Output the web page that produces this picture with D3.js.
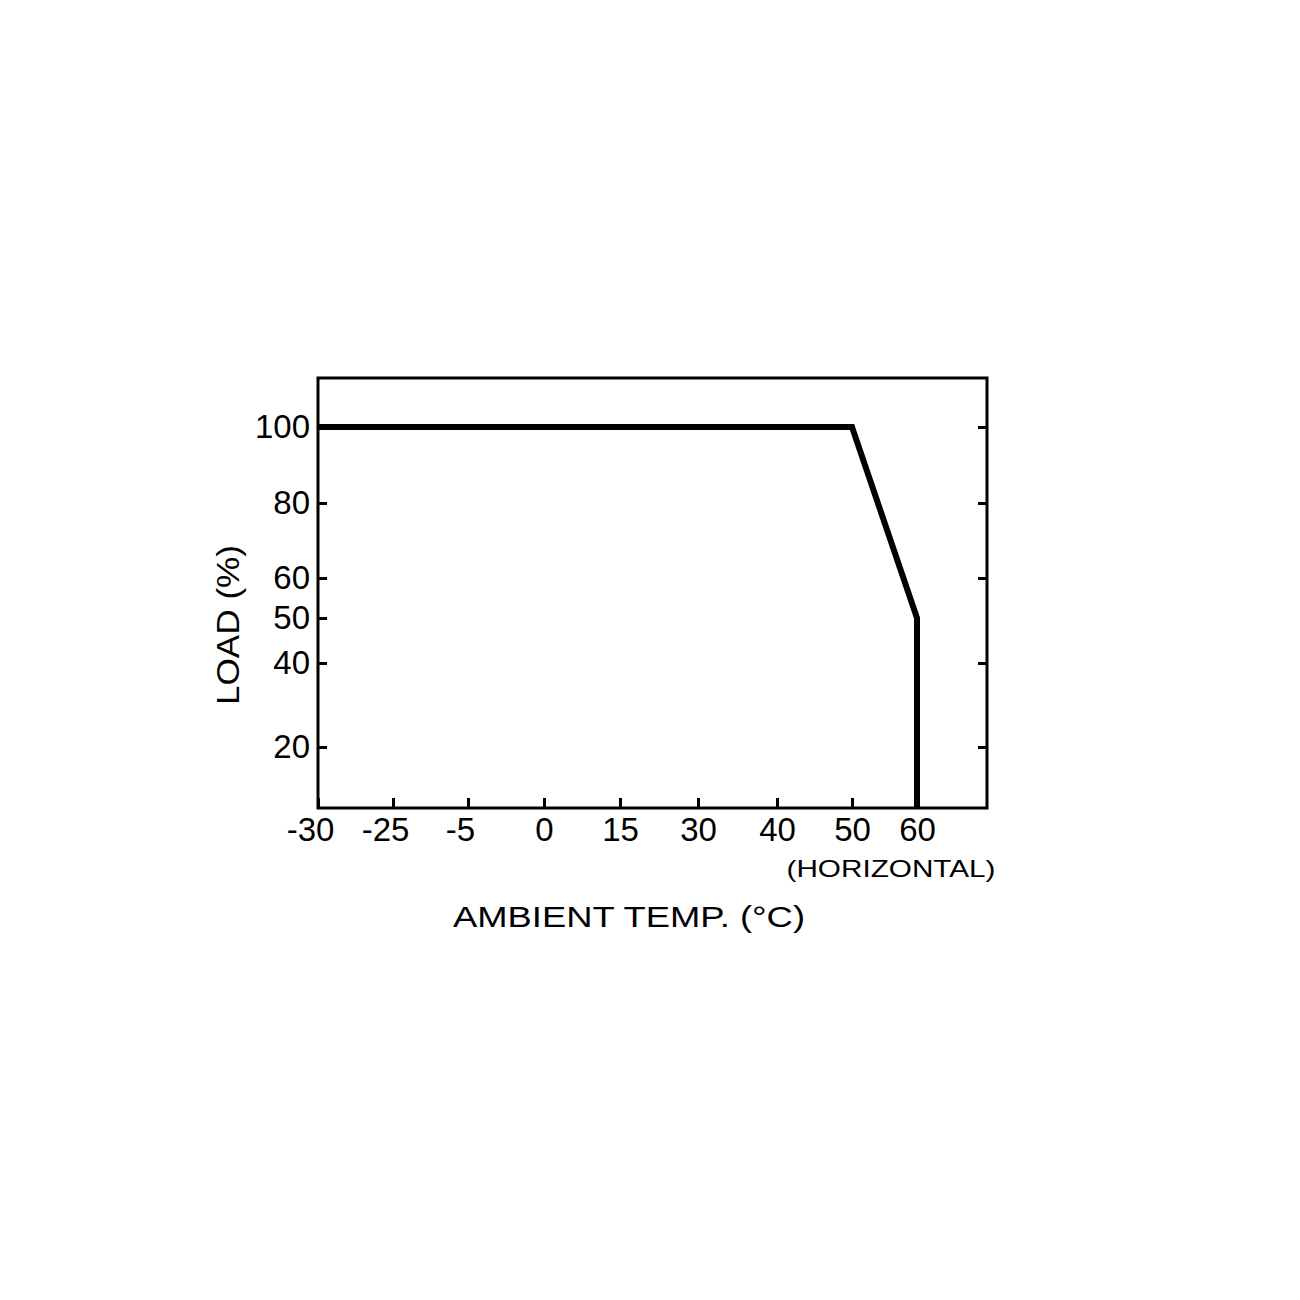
<!DOCTYPE html>
<html>
<head>
<meta charset="utf-8">
<script src="https://cdn.jsdelivr.net/npm/d3@7"></script>
<style>
  body { margin: 0; background: #fff; }
  text { font-family: "Liberation Sans", Arial, sans-serif; fill: #000; }
</style>
</head>
<body>
<div id="chart"></div>
<script>
// Derating curve: ambient temperature vs load
const tempPoints = [-30, 50, 60, 60];
const loadPoints = [100, 100, 50, 0];

// Tick labels (the x axis is not evenly scaled in the original)
const xTicks = [-30, -25, -5, 0, 15, 30, 40, 50, 60];
const yTicksLeft = [20, 40, 50, 60, 80, 100];
const yTicksRight = [20, 40, 60, 80, 100];

// Breakpoints that map the uneven axis values onto the frame
const xBreaks = [-30, -25, -5, 0, 15, 30, 40, 50, 60, 70];
const yBreaks = [0, 20, 40, 50, 60, 80, 100, 113];

const W = 1300, H = 1300;
const plot = { left: 318, right: 987, top: 378, bottom: 808 };

const svg = d3.select("#chart")
  .append("svg")
  .attr("width", W)
  .attr("height", H);

// Piecewise scales
const xScale = d3.scaleLinear()
  .domain(xBreaks)
  .range([318, 393, 468, 544, 620, 698, 777, 852, 917, 987]);

const yScale = d3.scaleLinear()
  .domain(yBreaks)
  .range([808, 747, 663, 618, 578, 503, 427, 378]);

// Bottom axis, ticks pointing inward
const xAxis = svg.append("g")
  .attr("transform", `translate(0,${plot.bottom})`)
  .call(d3.axisBottom(xScale)
    .tickValues(xTicks)
    .tickFormat(d => d)
    .tickSizeInner(-10)
    .tickSizeOuter(0)
    .tickPadding(10));
xAxis.select(".domain").remove();
xAxis.selectAll("line").attr("stroke", "#000").attr("stroke-width", 3);
xAxis.selectAll("text")
  .attr("dx", d => d < 0 ? -8 : 0)
  .style("font-size", "33px")
  .style("font-family", "Liberation Sans, Arial, sans-serif")
  .attr("fill", "#000");

// Left axis
const yAxis = svg.append("g")
  .attr("transform", `translate(${plot.left},0)`)
  .call(d3.axisLeft(yScale)
    .tickValues(yTicksLeft)
    .tickFormat(d => d)
    .tickSizeInner(-9)
    .tickSizeOuter(0)
    .tickPadding(8));
yAxis.select(".domain").remove();
yAxis.selectAll("line").attr("stroke", "#000").attr("stroke-width", 3);
yAxis.selectAll("text")
  .style("font-size", "33px")
  .style("font-family", "Liberation Sans, Arial, sans-serif")
  .attr("fill", "#000");

// Right axis, ticks only
const yAxisR = svg.append("g")
  .attr("transform", `translate(${plot.right},0)`)
  .call(d3.axisRight(yScale)
    .tickValues(yTicksRight)
    .tickFormat("")
    .tickSizeInner(-9)
    .tickSizeOuter(0));
yAxisR.select(".domain").remove();
yAxisR.selectAll("line").attr("stroke", "#000").attr("stroke-width", 3);

// Frame
svg.append("rect")
  .attr("x", plot.left)
  .attr("y", plot.top)
  .attr("width", plot.right - plot.left)
  .attr("height", plot.bottom - plot.top)
  .attr("fill", "none")
  .attr("stroke", "#000")
  .attr("stroke-width", 3);

// Curve
const line = d3.line()
  .x(d => xScale(d[0]))
  .y(d => yScale(d[1]));

svg.append("path")
  .datum(tempPoints.map((t, i) => [t, loadPoints[i]]))
  .attr("d", line)
  .attr("fill", "none")
  .attr("stroke", "#000")
  .attr("stroke-width", 6)
  .attr("stroke-linejoin", "miter");

// Labels
svg.append("text")
  .attr("x", 891)
  .attr("y", 877)
  .attr("text-anchor", "middle")
  .attr("textLength", 209)
  .attr("lengthAdjust", "spacingAndGlyphs")
  .style("font-size", "24px")
  .text("(HORIZONTAL)");

svg.append("text")
  .attr("x", 629)
  .attr("y", 927)
  .attr("text-anchor", "middle")
  .attr("textLength", 352)
  .attr("lengthAdjust", "spacingAndGlyphs")
  .style("font-size", "29px")
  .text("AMBIENT TEMP. (°C)");

svg.append("text")
  .attr("transform", "translate(239,625) rotate(-90)")
  .attr("text-anchor", "middle")
  .attr("textLength", 160)
  .attr("lengthAdjust", "spacingAndGlyphs")
  .style("font-size", "31px")
  .text("LOAD (%)");
</script>
</body>
</html>
